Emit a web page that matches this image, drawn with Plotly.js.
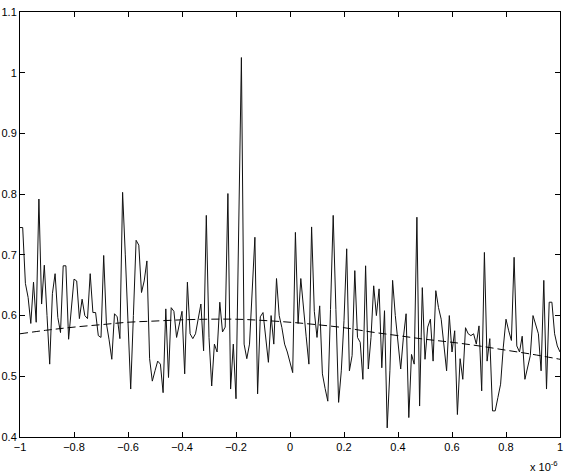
<!DOCTYPE html>
<html>
<head>
<meta charset="utf-8">
<script src="https://cdn.plot.ly/plotly-3.0.1.min.js"></script>
<style>
html, body { margin: 0; padding: 0; background: #fff; }
#plot { width: 568px; height: 476px; }
</style>
</head>
<body>
<div id="plot"></div>
<script>
// measured signal, one sample every 0.01 (x in units of 1e-6), from -1 to 1
var signal = [
  0.745, 0.745, 0.653, 0.630, 0.587, 0.655, 0.589, 0.792, 0.619, 0.683,
  0.600, 0.520, 0.636, 0.669, 0.597, 0.572, 0.682, 0.682, 0.561, 0.610,
  0.660, 0.657, 0.595, 0.627, 0.600, 0.595, 0.669, 0.605, 0.605, 0.567,
  0.564, 0.699, 0.587, 0.560, 0.528, 0.603, 0.598, 0.562, 0.803, 0.700,
  0.590, 0.479, 0.600, 0.724, 0.716, 0.638, 0.657, 0.690, 0.529, 0.492,
  0.509, 0.525, 0.520, 0.473, 0.611, 0.498, 0.613, 0.607, 0.564, 0.589,
  0.607, 0.504, 0.655, 0.570, 0.562, 0.570, 0.595, 0.619, 0.542, 0.765,
  0.564, 0.484, 0.553, 0.540, 0.622, 0.573, 0.581, 0.801, 0.479, 0.553,
  0.463, 0.740, 1.025, 0.553, 0.529, 0.553, 0.640, 0.729, 0.471, 0.598,
  0.605, 0.565, 0.523, 0.600, 0.553, 0.661, 0.600, 0.580, 0.553, 0.540,
  0.525, 0.506, 0.737, 0.587, 0.661, 0.607, 0.565, 0.520, 0.746, 0.607,
  0.564, 0.616, 0.504, 0.480, 0.459, 0.610, 0.765, 0.610, 0.457, 0.509,
  0.592, 0.710, 0.509, 0.534, 0.674, 0.564, 0.556, 0.495, 0.682, 0.512,
  0.564, 0.649, 0.600, 0.644, 0.514, 0.608, 0.415, 0.509, 0.658, 0.600,
  0.553, 0.512, 0.564, 0.603, 0.432, 0.536, 0.520, 0.762, 0.451, 0.646,
  0.528, 0.581, 0.594, 0.525, 0.641, 0.613, 0.594, 0.548, 0.509, 0.600,
  0.540, 0.575, 0.437, 0.529, 0.495, 0.580, 0.570, 0.567, 0.570, 0.553,
  0.583, 0.476, 0.704, 0.525, 0.562, 0.443, 0.443, 0.465, 0.487, 0.548,
  0.594, 0.575, 0.559, 0.696, 0.550, 0.540, 0.566, 0.495, 0.517, 0.534,
  0.600, 0.585, 0.570, 0.509, 0.658, 0.479, 0.622, 0.622, 0.570, 0.550,
  0.540
];
var signalStart = -1;
var signalStep = 0.01;

// dashed fitted curve
var fitX = [-1, -0.9, -0.8, -0.7, -0.6, -0.5, -0.4, -0.3, -0.2, -0.1, 0,
            0.1, 0.2, 0.3, 0.4, 0.5, 0.6, 0.7, 0.8, 0.9, 1];
var fitY = [0.570, 0.576, 0.581, 0.585, 0.589, 0.591, 0.593, 0.594, 0.594, 0.592, 0.589,
            0.585, 0.580, 0.573, 0.567, 0.561, 0.556, 0.550, 0.543, 0.536, 0.528];

var xTicks = [-1, -0.8, -0.6, -0.4, -0.2, 0, 0.2, 0.4, 0.6, 0.8, 1];
var yTicks = [0.4, 0.5, 0.6, 0.7, 0.8, 0.9, 1, 1.1];

var data = [
  {
    y: signal,
    x0: signalStart,
    dx: signalStep,
    type: "scatter",
    mode: "lines",
    line: { color: "#111", width: 1 },
    hoverinfo: "skip"
  },
  {
    x: fitX,
    y: fitY,
    type: "scatter",
    mode: "lines",
    line: { color: "#000", width: 1, dash: "8px,4px", shape: "spline" },
    hoverinfo: "skip"
  }
];

var axisStyle = {
  showline: true,
  linecolor: "#000",
  linewidth: 1,
  mirror: "ticks",
  ticks: "inside",
  ticklen: 5,
  tickcolor: "#000",
  showgrid: false,
  zeroline: false
};

var layout = {
  width: 568,
  height: 476,
  margin: { l: 20, r: 8, t: 12, b: 39 },
  paper_bgcolor: "#fff",
  plot_bgcolor: "#fff",
  showlegend: false,
  font: { family: "Liberation Sans, Arial, sans-serif", size: 11, color: "#000" },
  xaxis: Object.assign({}, axisStyle, {
    range: [-1, 1],
    tickvals: xTicks
  }),
  yaxis: Object.assign({}, axisStyle, {
    range: [0.4, 1.1],
    tickvals: yTicks
  }),
  annotations: [
    {
      text: "x 10<sup>-6</sup>",
      xref: "paper",
      yref: "paper",
      x: 1,
      y: -0.069,
      xanchor: "right",
      yanchor: "middle",
      showarrow: false,
      font: { size: 11 }
    }
  ]
};

Plotly.newPlot("plot", data, layout, { staticPlot: true });
</script>
</body>
</html>
